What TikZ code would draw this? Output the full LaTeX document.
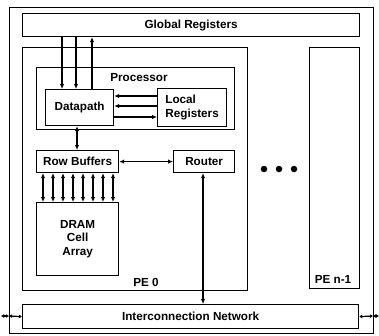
\documentclass[tikz,border=0pt]{standalone}
\usepackage{fontspec}
\setmainfont{Liberation Sans}
\usetikzlibrary{arrows.meta}
\begin{document}
\begin{tikzpicture}[x=1pt,y=-1pt,
  font=\bfseries\fontsize{11.7}{13.5}\selectfont,
  box/.style={draw, line width=1.2pt, inner sep=0pt, anchor=north west},
  lbl/.style={inner sep=0pt},
  arr/.style={line width=1.4pt, -{Latex[length=5pt,width=4.5pt]}},
  darr/.style={line width=1.4pt, {Latex[length=5pt,width=4.5pt]}-{Latex[length=5pt,width=4.5pt]}},
  sarr/.style={line width=1.2pt, {Latex[length=3pt,width=4pt]}-{Latex[length=3pt,width=4pt]}},
  dot/.style={circle, fill, inner sep=0pt, minimum size=6.5pt}]
\useasboundingbox (0,0) rectangle (379,335);

% outer frame
\draw[line width=0.9pt] (9,7) rectangle (373,333);

% main blocks
\node[box, minimum width=337pt, minimum height=23pt] (gr) at (22,13) {};
\node[lbl] at (gr.center) {Global Registers};
\node[box, minimum width=225pt, minimum height=243pt] (pe0) at (22,47) {};
\node[box, minimum width=198pt, minimum height=62pt] (proc) at (36,67) {};
\node[box, minimum width=68pt, minimum height=36pt] (dp) at (45,89) {};
\node[lbl] at (dp.center) {Datapath};
\node[box, minimum width=69pt, minimum height=38pt] (lr) at (157,88) {};
\node[lbl, align=left] at (lr.center) {Local\\Registers};
\node[box, minimum width=82pt, minimum height=22pt] (rb) at (36,150) {};
\node[lbl] at (rb.center) {Row Buffers};
\node[box, minimum width=61pt, minimum height=22pt] (rt) at (173,150) {};
\node[lbl] at (rt.center) {Router};
\node[box, minimum width=82pt, minimum height=73pt] (dram) at (36,202) {};
\node[lbl, align=center] at (dram.center) {DRAM\\Cell\\Array};
\node[box, minimum width=50pt, minimum height=241pt] (pen) at (309,47) {};
\node[box, minimum width=336pt, minimum height=24pt] (net) at (22,304) {};
\node[lbl] at (net.center) {Interconnection Network};

% labels
\node[lbl] (lproc) at (139,78) {Processor};
\node[lbl] (lpe0) at (146,282) {PE 0};
\node[lbl] (lpen) at (333,279) {PE n-1};

% ellipsis between PEs
\node[dot] (d1) at (264,169) {};
\node[dot] (d2) at (279,169) {};
\node[dot] (d3) at (294,169) {};

% global registers <-> datapath
\coordinate (g1) at (62,0);
\coordinate (g2) at (76,0);
\coordinate (g3) at (92,0);
\draw[arr] (gr.south -| g1) -- (dp.north -| g1);
\draw[arr] (gr.south -| g2) -- (dp.north -| g2);
\draw[arr] (dp.north -| g3) -- (gr.south -| g3);

% datapath <-> local registers
\coordinate (h1) at (0,96);
\coordinate (h2) at (0,106);
\coordinate (h3) at (0,117);
\draw[arr] (lr.west |- h1) -- (dp.east |- h1);
\draw[arr] (lr.west |- h2) -- (dp.east |- h2);
\draw[arr] (dp.east |- h3) -- (lr.west |- h3);

% datapath <-> row buffers
\coordinate (v1) at (77,0);
\draw[darr] (dp.south -| v1) -- (rb.north -| v1);

% row buffers <-> router
\draw[darr] (rb.east) -- (rt.west);

% row buffers <-> DRAM array
\foreach \i in {0,...,7} {
  \coordinate (b\i) at ({43+10*\i},0);
  \draw[darr] (rb.south -| b\i) -- (dram.north -| b\i);
}

% router <-> interconnection network
\coordinate (v2) at (203,0);
\draw[darr] (rt.south -| v2) -- (net.north -| v2);

% external links of the network
\coordinate (xl) at (1,316);
\coordinate (fl) at (9,316);
\coordinate (fr) at (373,316);
\coordinate (xr) at (379,316);
\draw[sarr] (xl) -- (fl);
\draw[sarr] (fl) -- (net.west);
\draw[sarr] (net.east) -- (fr);
\draw[sarr] (fr) -- (xr);
\end{tikzpicture}
\end{document}
